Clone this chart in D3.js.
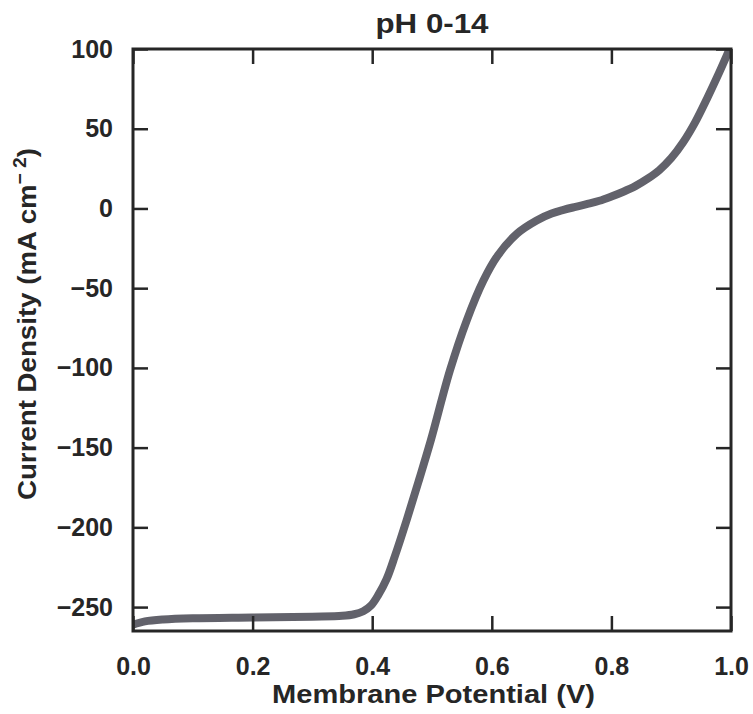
<!DOCTYPE html>
<html>
<head>
<meta charset="utf-8">
<script src="https://cdn.jsdelivr.net/npm/d3@7"></script>
<style>
  body { margin: 0; background: white; }
  text { font-family: "Liberation Sans", Arial, sans-serif; font-weight: bold; fill: #262626; }
</style>
</head>
<body>
<script>
// curve
const potential = [0, 0.02, 0.05, 0.1, 0.2, 0.3, 0.35, 0.37, 0.385, 0.398, 0.41, 0.424, 0.438, 0.458, 0.478, 0.498, 0.53, 0.558, 0.586, 0.61, 0.642, 0.675, 0.70, 0.72, 0.74, 0.76, 0.78, 0.80, 0.82, 0.84, 0.86, 0.88, 0.90, 0.92, 0.94, 0.96, 0.98, 1.0]
const current = [-261, -259, -257.8, -257, -256.5, -256, -255.5, -254.5, -252.6, -249, -242.5, -232.5, -218, -195, -170.6, -145.5, -101.6, -70.3, -45.2, -29.5, -15.8, -7.5, -3.2, -0.9, 1.0, 2.8, 4.8, 7.5, 10.5, 14, 18.5, 24, 31.5, 41.5, 54, 69, 85, 102]
const xTicks = [0, 0.2, 0.4, 0.6, 0.8, 1.0]
const yTicks = [100, 50, 0, -50, -100, -150, -200, -250]

const W = 753, H = 714
const pLeft = 133, pRight = 731, pTop = 49, pBottom = 631

const svg = d3.select("body")
  .append("svg")
    .attr("width", W)
    .attr("height", H)

const x = d3.scaleLinear().domain([0, 1]).range([pLeft, pRight])
const y = d3.scaleLinear().domain([-265, 100]).range([pBottom, pTop])

svg.append("clipPath")
    .attr("id", "plotclip")
  .append("rect")
    .attr("x", pLeft)
    .attr("y", pTop)
    .attr("width", pRight - pLeft)
    .attr("height", pBottom - pTop)

const pts = potential.map((v, i) => [v, current[i]])

svg.append("path")
    .datum(pts)
    .attr("clip-path", "url(#plotclip)")
    .attr("fill", "none")
    .attr("stroke", "#62626b")
    .attr("stroke-width", 8)
    .attr("d", d3.line()
      .x(d => x(d[0]))
      .y(d => y(d[1]))
      .curve(d3.curveCatmullRom.alpha(0.5)))

// ticks pointing inward on all four sides
const fmtX = d3.format(".1f")
const fmtY = d => d3.format("")(d).replace("-", "\u2212")

const axes = [
  d3.axisBottom(x).tickValues(xTicks).tickSizeInner(-15).tickSizeOuter(0).tickPadding(26).tickFormat(fmtX),
  d3.axisTop(x).tickValues(xTicks).tickSizeInner(-15).tickSizeOuter(0).tickFormat(""),
  d3.axisLeft(y).tickValues(yTicks).tickSizeInner(-15).tickSizeOuter(0).tickPadding(20).tickFormat(fmtY),
  d3.axisRight(y).tickValues(yTicks).tickSizeInner(-15).tickSizeOuter(0).tickFormat("")
]
const shifts = [[0, pBottom], [0, pTop], [pLeft, 0], [pRight, 0]]

axes.forEach((ax, i) => {
  const g = svg.append("g")
      .attr("transform", `translate(${shifts[i][0]},${shifts[i][1]})`)
      .call(ax)
  g.select(".domain").remove()
  g.selectAll(".tick line").attr("stroke", "#262626").attr("stroke-width", 2.5)
  g.selectAll(".tick text")
      .attr("font-size", 25)
      .attr("font-family", "Liberation Sans, Arial, sans-serif")
      .attr("font-weight", "bold")
      .attr("fill", "#262626")
})

svg.append("rect")
    .attr("x", pLeft)
    .attr("y", pTop)
    .attr("width", pRight - pLeft)
    .attr("height", pBottom - pTop)
    .attr("fill", "none")
    .attr("stroke", "#262626")
    .attr("stroke-width", 3)

svg.append("text")
    .attr("x", (pLeft + pRight) / 2)
    .attr("y", 33)
    .attr("text-anchor", "middle")
    .attr("font-size", 28)
    .attr("textLength", 113)
    .attr("lengthAdjust", "spacingAndGlyphs")
    .text("pH 0-14")

svg.append("text")
    .attr("x", 433.5)
    .attr("y", 703)
    .attr("text-anchor", "middle")
    .attr("font-size", 25)
    .attr("textLength", 323)
    .attr("lengthAdjust", "spacingAndGlyphs")
    .text("Membrane Potential (V)")

const yl = svg.append("text")
    .attr("transform", "translate(36,324) rotate(-90)")
    .attr("text-anchor", "middle")
    .attr("font-size", 26)
    .attr("textLength", 352)
    .attr("lengthAdjust", "spacingAndGlyphs")
yl.append("tspan").text("Current Density (mA cm")
yl.append("tspan").attr("font-size", 18).attr("dy", -10).text("\u2212 2")
yl.append("tspan").attr("dy", 10).text(")")
</script>
</body>
</html>
